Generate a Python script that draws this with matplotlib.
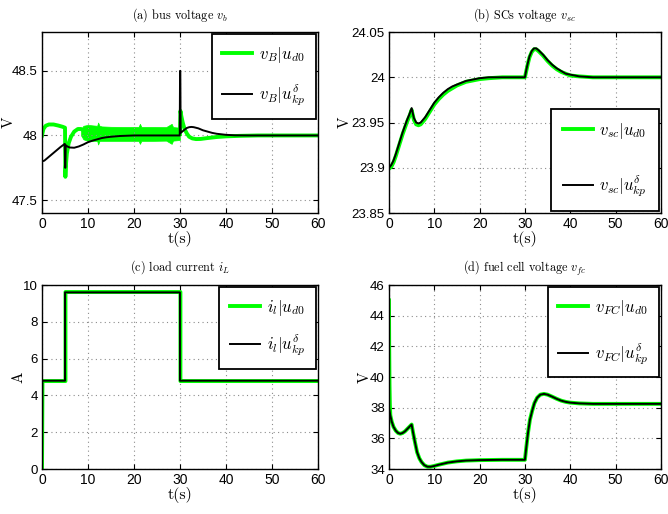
import numpy as np
import matplotlib
matplotlib.use('Agg')
import matplotlib.pyplot as plt

plt.rcParams['mathtext.fontset'] = 'cm'
plt.rcParams['font.family'] = ['Liberation Sans', 'DejaVu Sans']

GREEN = '#00ff00'
SERIF = 'cmr10'

# (a) bus voltage, green: before the noisy band, the band envelope, after
ga_t = [0, 0.3, 0.8, 1.5, 2.5, 3.5, 4.5, 5.0, 5.08, 5.15, 5.4, 5.8, 6.3, 7.0, 7.8, 8.5, 9.0]
ga_v = [48.0, 48.05, 48.075, 48.085, 48.085, 48.077, 48.067, 48.06, 47.68, 47.75, 47.86,
        47.94, 47.99, 48.03, 48.05, 48.05, 48.04]
band_t = [8.5, 9, 10, 11, 12, 12.2, 12.5, 13, 15, 18, 21, 21.3, 21.6, 24, 27, 28.2, 28.5, 30]
band_hi = [48.05, 48.075, 48.082, 48.078, 48.075, 48.1, 48.075, 48.07, 48.067, 48.066,
           48.066, 48.09, 48.066, 48.066, 48.065, 48.09, 48.065, 48.06]
band_lo = [48.0, 47.97, 47.958, 47.958, 47.958, 47.93, 47.958, 47.958, 47.958, 47.958,
           47.958, 47.935, 47.958, 47.958, 47.96, 47.935, 47.96, 47.965]
gb_t = [30, 30.1, 30.3, 30.6, 31, 31.5, 32, 32.7, 33.5, 34.5, 36, 38, 40, 43, 47, 52, 60]
gb_v = [48.01, 48.19, 48.15, 48.1, 48.05, 48.015, 47.99, 47.977, 47.972, 47.973, 47.98,
        47.988, 47.993, 47.997, 48.0, 48.0, 48.0]
ka_t = [0, 0.02, 0.5, 1, 2, 3, 4, 4.95, 5.02, 5.08, 5.15, 5.5, 6, 7, 8, 9, 10, 11, 12, 13,
        14, 15, 17, 20, 25, 29.95, 30.02, 30.08, 30.15, 30.5, 31, 31.5, 32, 32.5, 33, 34,
        35, 36, 37, 38, 40, 42, 45, 50, 60]
ka_v = [47.4, 47.8, 47.805, 47.82, 47.85, 47.88, 47.91, 47.935, 47.75, 47.75, 47.925,
        47.915, 47.907, 47.905, 47.915, 47.93, 47.948, 47.96, 47.97, 47.98, 47.986, 47.99,
        47.996, 48.0, 48.0, 48.0, 48.5, 48.5, 48.02, 48.03, 48.045, 48.058, 48.064, 48.066,
        48.064, 48.055, 48.04, 48.03, 48.02, 48.013, 48.005, 48.001, 48.0, 48.0, 48.0]

# (b) SCs voltage
b_t = [0, 0.5, 1, 1.5, 2, 2.5, 3, 3.5, 4, 4.5, 5, 5.5, 6, 6.5, 7, 8, 9, 10, 11, 12, 13,
       14, 15, 16, 17, 18, 20, 22, 25, 30, 30.3, 30.7, 31, 31.5, 32, 32.5, 33, 34, 35, 36,
       37, 38, 39, 40, 42, 45, 50, 60]
kb_v = [23.9, 23.903, 23.908, 23.915, 23.923, 23.931, 23.939, 23.946, 23.953, 23.959,
        23.966, 23.955, 23.95, 23.949, 23.95, 23.956, 23.964, 23.972, 23.978, 23.983,
        23.987, 23.99, 23.992, 23.994, 23.996, 23.997, 23.999, 24.0, 24.0, 24.0, 24.008,
        24.017, 24.023, 24.029, 24.032, 24.032, 24.03, 24.025, 24.019, 24.014, 24.01,
        24.007, 24.004, 24.003, 24.001, 24.0, 24.0, 24.0]
gb2_v = [23.899, 23.901, 23.906, 23.913, 23.921, 23.929, 23.937, 23.944, 23.951, 23.957,
         23.964, 23.953, 23.948, 23.947, 23.948, 23.954, 23.962, 23.97, 23.976, 23.981,
         23.985, 23.988, 23.991, 23.993, 23.995, 23.996, 23.998, 23.999, 24.0, 24.0,
         24.007, 24.016, 24.022, 24.028, 24.031, 24.031, 24.029, 24.024, 24.018, 24.013,
         24.009, 24.006, 24.004, 24.002, 24.001, 24.0, 24.0, 24.0]

# (c) load current
kc_t = [0, 0.05, 5, 5, 30, 30, 60]
kc_v = [0, 4.8, 4.8, 9.6, 9.6, 4.8, 4.8]
gc_t = [0, 0.1, 5.1, 5.1, 30.1, 30.1, 60]
gc_v = [0, 4.78, 4.78, 9.62, 9.62, 4.78, 4.78]

# (d) fuel cell voltage
kd_t = [0, 0.3, 0.6, 1, 1.5, 2, 2.5, 3, 3.5, 4, 4.5, 5, 5.3, 5.7, 6.2, 6.7, 7.2, 7.8,
        8.5, 9.2, 10, 11, 12, 13, 15, 17, 20, 25, 30, 30.3, 30.7, 31.1, 31.6, 32.1, 32.7,
        33.4, 34.2, 35, 36, 37, 38, 39, 40, 42, 45, 50, 60]
kd_v = [38.0, 37.5, 37.1, 36.75, 36.5, 36.35, 36.3, 36.35, 36.45, 36.6, 36.75, 36.9, 36.4,
        35.8, 35.1, 34.7, 34.45, 34.25, 34.15, 34.15, 34.2, 34.28, 34.35, 34.42, 34.5,
        34.55, 34.58, 34.6, 34.6, 35.4, 36.4, 37.2, 37.8, 38.3, 38.65, 38.85, 38.9, 38.85,
        38.72, 38.58, 38.46, 38.38, 38.33, 38.28, 38.25, 38.25, 38.25]
gd_t = [0, 0.05, 0.12, 0.2] + kd_t[1:]
gd_v = [45.0, 42.0, 39.5, 38.2] + kd_v[1:]

fig = plt.figure(figsize=(6.68, 5.14), dpi=100)
ax_a = fig.add_axes([0.0629, 0.5856, 0.413, 0.352])
ax_b = fig.add_axes([0.5823, 0.5856, 0.407, 0.352])
ax_c = fig.add_axes([0.0629, 0.0875, 0.413, 0.358])
ax_d = fig.add_axes([0.5823, 0.0875, 0.407, 0.358])


def style(ax, title, ylabel, ylim, yticks, yticklabels, lx):
    ax.set_xlim(0, 60)
    ax.set_xticks(range(0, 61, 10))
    ax.set_ylim(*ylim)
    ax.set_yticks(yticks)
    ax.set_yticklabels(yticklabels)
    ax.tick_params(direction='in', length=3.5, width=0.8, labelsize=10, top=True, right=True, pad=3)
    ax.tick_params(axis='y', labelsize=9.5)
    ax.grid(True, color='0.55', linestyle=(0, (1, 3)), linewidth=0.8)
    for s in ax.spines.values():
        s.set_linewidth(1.0)
    ax.set_title(title, family=SERIF, fontsize=8.8, pad=10)
    ax.set_xlabel('t(s)', family=SERIF, fontsize=11.5, labelpad=0)
    ax.set_ylabel(ylabel, family=SERIF, fontsize=11)
    ax.yaxis.set_label_coords(lx, 0.5)


def legend(ax, handles, labels, loc, spacing, pad=0.65):
    leg = ax.legend(handles, labels, loc=loc, fontsize=12, fancybox=False, framealpha=1,
                    edgecolor='black', borderaxespad=0.12, handlelength=1.8,
                    handletextpad=0.4, borderpad=pad, labelspacing=spacing)
    leg.get_frame().set_linewidth(1.3)


# (a)
ax_a.plot(ga_t, ga_v, color=GREEN, lw=2.8)
ax_a.fill_between(band_t, band_lo, band_hi, color=GREEN, lw=0.5, edgecolor=GREEN)
ax_a.plot(gb_t, gb_v, color=GREEN, lw=2.8)
ax_a.plot(ka_t, ka_v, color='black', lw=1.4)
style(ax_a, r'(a) bus voltage $v_b$', 'V', (47.4, 48.8), [47.5, 48, 48.5],
      ['47.5', '48', '48.5'], -0.095)
h1, = ax_a.plot([], [], color=GREEN, lw=2.8)
h2, = ax_a.plot([], [], color='black', lw=1.4)
legend(ax_a, [h1, h2], [r'$v_B|u_{d0}$', r'$v_B|u_{kp}^{\delta}$'], 'upper right', 1.05)

# (b)
lb1, = ax_b.plot(b_t, gb2_v, color=GREEN, lw=2.8)
lb2, = ax_b.plot(b_t, kb_v, color='black', lw=1.4)
style(ax_b, r'(b) SCs voltage $v_{sc}$', 'V', (23.85, 24.05),
      [23.85, 23.9, 23.95, 24.0, 24.05], ['23.85', '23.9', '23.95', '24', '24.05'], -0.138)
legend(ax_b, [lb1, lb2], [r'$v_{sc}|u_{d0}$', r'$v_{sc}|u_{kp}^{\delta}$'], 'lower right',
       1.95, pad=0.72)

# (c)
lc1, = ax_c.plot(gc_t, gc_v, color=GREEN, lw=2.8)
lc2, = ax_c.plot(kc_t, kc_v, color='black', lw=1.4)
style(ax_c, r'(c) load current $i_L$', 'A', (0, 10), range(0, 11, 2),
      [str(v) for v in range(0, 11, 2)], -0.06)
legend(ax_c, [lc1, lc2], [r'$i_l|u_{d0}$', r'$i_l|u_{kp}^{\delta}$'], 'upper right', 0.9)

# (d)
ld1, = ax_d.plot(gd_t, gd_v, color=GREEN, lw=2.8)
ld2, = ax_d.plot(kd_t, kd_v, color='black', lw=1.4)
style(ax_d, r'(d) fuel cell voltage $v_{fc}$', 'V', (34, 46), range(34, 47, 2),
      [str(v) for v in range(34, 47, 2)], -0.065)
legend(ax_d, [ld1, ld2], [r'$v_{FC}|u_{d0}$', r'$v_{FC}|u_{kp}^{\delta}$'], 'upper right', 1.4)

fig.savefig('out.png', dpi=100)
